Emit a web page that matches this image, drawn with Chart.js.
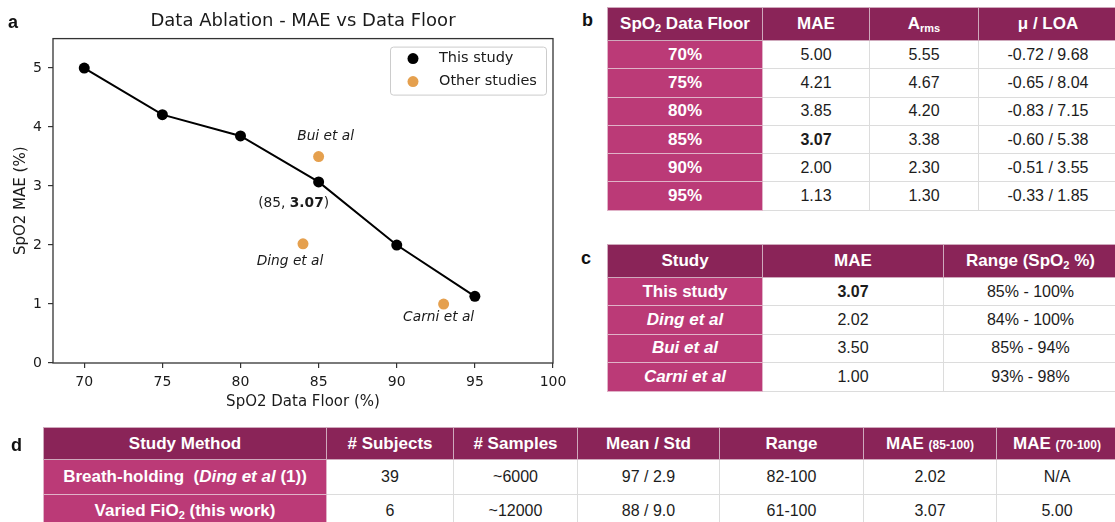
<!DOCTYPE html>
<html>
<head>
<meta charset="utf-8">
<script src="https://cdn.jsdelivr.net/npm/chart.js@4.4.1/dist/chart.umd.min.js"></script>
<style>
  html, body { margin: 0; padding: 0; background: #fff; }
  body { width: 1115px; height: 522px; position: relative; overflow: hidden; }
  #ablation { position: absolute; left: 0; top: 0; }
  .panel { position: absolute; font-family: 'Liberation Sans', Arial, sans-serif; font-weight: bold; font-size: 18px; color: #111; line-height: 1; }
  table { position: absolute; border-collapse: collapse; table-layout: fixed;
          font-family: 'Liberation Sans', Arial, sans-serif; font-size: 16px; color: #1c1c1c; }
  th { background: #8a2458; color: #fff; font-weight: bold; font-size: 17px; border: 1px solid #cfa9bc; padding: 0; text-align: center; }
  td { background: #fff; border: 1px solid #dcdcdc; padding: 0; text-align: center; }
  td.lab { background: #bb3a77; color: #fff; font-weight: bold; font-size: 17px; border: 1px solid #e0b3c8; }
  sub { font-size: 11px; vertical-align: -3px; line-height: 0; }
  .sm { font-size: 12px; }
  .bold { font-weight: bold; }
  #tb { left: 607px; top: 7px; width: 510px; }
  #tb tr.h { height: 33px; } #tb tr.r { height: 28.3px; }
  #tc { left: 607px; top: 244px; width: 510px; }
  #tc tr.h { height: 33px; } #tc tr.r { height: 28.4px; }
  #td { left: 43px; top: 427px; width: 1074px; }
  #td tr.h { height: 32px; } #td tr.r { height: 34.5px; }
</style>
</head>
<body>
<canvas id="ablation" width="580" height="415"></canvas>
<div class="panel" style="left:8px; top:13px;">a</div>
<div class="panel" style="left:582px; top:11px;">b</div>
<div class="panel" style="left:581px; top:249px;">c</div>
<div class="panel" style="left:11px; top:436px;">d</div>

<table id="tb">
  <colgroup><col style="width:155px"><col style="width:107px"><col style="width:109px"><col style="width:139px"></colgroup>
  <thead><tr class="h"><th>SpO<sub>2</sub> Data Floor</th><th>MAE</th><th>A<sub>rms</sub></th><th>μ / LOA</th></tr></thead>
  <tbody></tbody>
</table>

<table id="tc">
  <colgroup><col style="width:155px"><col style="width:181px"><col style="width:174px"></colgroup>
  <thead><tr class="h"><th>Study</th><th>MAE</th><th>Range (SpO<sub>2</sub> %)</th></tr></thead>
  <tbody></tbody>
</table>

<table id="td">
  <colgroup><col style="width:283px"><col style="width:127px"><col style="width:124px"><col style="width:142px"><col style="width:144px"><col style="width:133px"><col style="width:121px"></colgroup>
  <thead><tr class="h"><th>Study Method</th><th># Subjects</th><th># Samples</th><th>Mean / Std</th><th>Range</th><th>MAE <span class="sm">(85-100)</span></th><th>MAE <span class="sm">(70-100)</span></th></tr></thead>
  <tbody>
    <tr class="r"><td class="lab">Breath-holding&nbsp; (<i>Ding et al</i> (1))</td><td>39</td><td>~6000</td><td>97 / 2.9</td><td>82-100</td><td>2.02</td><td>N/A</td></tr>
    <tr class="r"><td class="lab">Varied FiO<sub>2</sub> (this work)</td><td>6</td><td>~12000</td><td>88 / 9.0</td><td>61-100</td><td>3.07</td><td>5.00</td></tr>
  </tbody>
</table>

<script>
// Ablation results: MAE for each SpO2 data floor
const floorLevels   = [70, 75, 80, 85, 90, 95];
const maeThisStudy  = [5.00, 4.21, 3.85, 3.07, 2.00, 1.13];
const armsThisStudy = [5.55, 4.67, 4.20, 3.38, 2.30, 1.30];
const biasThisStudy = ['-0.72', '-0.65', '-0.83', '-0.60', '-0.51', '-0.33'];
const loaThisStudy  = ['9.68', '8.04', '7.15', '5.38', '3.55', '1.85'];

// Published comparison studies
const otherStudyNames  = ['Ding et al', 'Bui et al', 'Carni et al'];
const otherStudyFloors = [84, 85, 93];
const otherStudyMae    = [2.02, 3.50, 1.00];
const studyRanges      = ['85% - 100%', '84% - 100%', '85% - 94%', '93% - 98%'];

// Axis ticks
const xTickValues = [70, 75, 80, 85, 90, 95, 100];
const yTickValues = [0, 1, 2, 3, 4, 5];

const highlightIndex = floorLevels.indexOf(85);

// ---- tables b and c ----
const tbBody = document.querySelector('#tb tbody');
floorLevels.forEach((f, i) => {
  const tr = document.createElement('tr');
  tr.className = 'r';
  const maeCls = i === highlightIndex ? ' class="bold"' : '';
  tr.innerHTML = `<td class="lab">${f}%</td><td${maeCls}>${maeThisStudy[i].toFixed(2)}</td>` +
                 `<td>${armsThisStudy[i].toFixed(2)}</td><td>${biasThisStudy[i]} / ${loaThisStudy[i]}</td>`;
  tbBody.appendChild(tr);
});

const tcBody = document.querySelector('#tc tbody');
const studyNames = ['This study', 'Ding et al', 'Bui et al', 'Carni et al'];
const studyMae = [maeThisStudy[highlightIndex]].concat(studyNames.slice(1).map(n => otherStudyMae[otherStudyNames.indexOf(n)]));
studyNames.forEach((n, i) => {
  const tr = document.createElement('tr');
  tr.className = 'r';
  const name = i === 0 ? n : `<i>${n}</i>`;
  const maeCls = i === 0 ? ' class="bold"' : '';
  tr.innerHTML = `<td class="lab">${name}</td><td${maeCls}>${studyMae[i].toFixed(2)}</td><td>${studyRanges[i]}</td>`;
  tcBody.appendChild(tr);
});

// ---- chart ----
const FONT = 'DejaVu Sans';
const INK = '#1a1a1a';
const ORANGE = '#e5a04e';

// closed frame around the plot area
const framePlugin = {
  id: 'frame',
  afterDatasetsDraw(chart) {
    const { ctx, chartArea: a } = chart;
    ctx.save();
    ctx.strokeStyle = '#333';
    ctx.lineWidth = 1.3;
    ctx.strokeRect(a.left, a.top, a.right - a.left, a.bottom - a.top);
    ctx.restore();
  }
};

// legend boxed inside the upper right corner of the plot
const insetLegend = {
  id: 'insetLegend',
  afterDraw(chart) {
    const { ctx, chartArea: a } = chart;
    const w = 156, h = 48;
    const x0 = a.right - 7 - w, y0 = a.top + 8;
    ctx.save();
    ctx.fillStyle = 'rgba(255,255,255,0.85)';
    ctx.strokeStyle = '#cccccc';
    ctx.lineWidth = 1;
    ctx.beginPath();
    ctx.roundRect(x0 + 0.5, y0 + 0.5, w, h, 3);
    ctx.fill();
    ctx.stroke();
    ctx.font = `14.5px "${FONT}"`;
    ctx.textBaseline = 'middle';
    chart.data.datasets.forEach((ds, i) => {
      const cy = y0 + 12 + i * 23;
      ctx.fillStyle = ds.backgroundColor;
      ctx.beginPath();
      ctx.arc(x0 + 23, cy, 5.5, 0, Math.PI * 2);
      ctx.fill();
      ctx.fillStyle = INK;
      ctx.fillText(ds.label, x0 + 49, cy);
    });
    ctx.restore();
  }
};

// text offsets (px) of the point annotations
const labelOffsets = {
  'Bui et al':   [7, -20],
  'Ding et al':  [-13, 18],
  'Carni et al': [-5, 13],
  highlight:     [-25, 21]
};

const pointLabels = {
  id: 'pointLabels',
  afterDatasetsDraw(chart) {
    const { ctx, scales: { x, y } } = chart;
    ctx.save();
    ctx.fillStyle = INK;
    ctx.textBaseline = 'middle';
    ctx.textAlign = 'center';
    ctx.font = `italic 13.75px "${FONT}"`;
    otherStudyNames.forEach((n, i) => {
      const [dx, dy] = labelOffsets[n];
      ctx.fillText(n, x.getPixelForValue(otherStudyFloors[i]) + dx, y.getPixelForValue(otherStudyMae[i]) + dy);
    });
    // "(85, 3.07)" with the MAE value in bold
    const parts = [
      [`(${floorLevels[highlightIndex]}, `, `13.75px "${FONT}"`],
      [maeThisStudy[highlightIndex].toFixed(2), `bold 13.75px "${FONT}"`],
      [')', `13.75px "${FONT}"`]
    ];
    let total = 0;
    parts.forEach(p => { ctx.font = p[1]; total += ctx.measureText(p[0]).width; });
    const [dx, dy] = labelOffsets.highlight;
    let cx = x.getPixelForValue(floorLevels[highlightIndex]) + dx - total / 2;
    const cy = y.getPixelForValue(maeThisStudy[highlightIndex]) + dy;
    ctx.textAlign = 'left';
    parts.forEach(p => { ctx.font = p[1]; ctx.fillText(p[0], cx, cy); cx += ctx.measureText(p[0]).width; });
    ctx.restore();
  }
};

const tickFont = { family: FONT, size: 14 };
const labelFont = { family: FONT, size: 15 };
const axisGrid = { drawOnChartArea: false, drawTicks: true, tickLength: 5, color: '#333', lineWidth: 1.2 };

new Chart(document.getElementById('ablation'), {
  type: 'scatter',
  data: {
    datasets: [
      {
        label: 'This study',
        data: floorLevels.map((f, i) => ({ x: f, y: maeThisStudy[i] })),
        showLine: true,
        borderColor: '#000',
        backgroundColor: '#000',
        borderWidth: 2,
        pointRadius: 5.5,
        pointBorderWidth: 0,
        order: 1
      },
      {
        label: 'Other studies',
        data: otherStudyNames.map((n, i) => ({ x: otherStudyFloors[i], y: otherStudyMae[i] })),
        showLine: false,
        borderColor: ORANGE,
        backgroundColor: ORANGE,
        pointRadius: 5.5,
        pointBorderWidth: 0,
        order: 0
      }
    ]
  },
  options: {
    responsive: false,
    animation: false,
    devicePixelRatio: 1,
    layout: { padding: { left: 0, right: 27, top: 0, bottom: 0 } },
    plugins: {
      legend: { display: false },
      tooltip: { enabled: false },
      title: {
        display: true,
        text: 'Data Ablation - MAE vs Data Floor',
        fullSize: false,
        color: INK,
        font: { family: FONT, size: 18, weight: 'normal' },
        padding: { top: 11, bottom: 6 }
      }
    },
    scales: {
      x: {
        type: 'linear',
        min: 68,
        max: 100,
        afterBuildTicks: s => { s.ticks = xTickValues.map(v => ({ value: v })); },
        afterFit: s => { s.height = 52; },
        grid: axisGrid,
        border: { display: false },
        ticks: { font: tickFont, color: INK, padding: 6, maxRotation: 0 },
        title: { display: true, text: 'SpO2 Data Floor (%)', color: INK, font: labelFont, padding: { top: 0, bottom: 4 } }
      },
      y: {
        type: 'linear',
        min: 0,
        max: 5.5,
        afterBuildTicks: s => { s.ticks = yTickValues.map(v => ({ value: v })); },
        afterFit: s => { s.width = 53; },
        grid: axisGrid,
        border: { display: false },
        ticks: { font: tickFont, color: INK, padding: 6 },
        title: { display: true, text: 'SpO2 MAE (%)', color: INK, font: labelFont, padding: { top: 12, bottom: 0 } }
      }
    }
  },
  plugins: [framePlugin, pointLabels, insetLegend]
});
</script>
</body>
</html>
